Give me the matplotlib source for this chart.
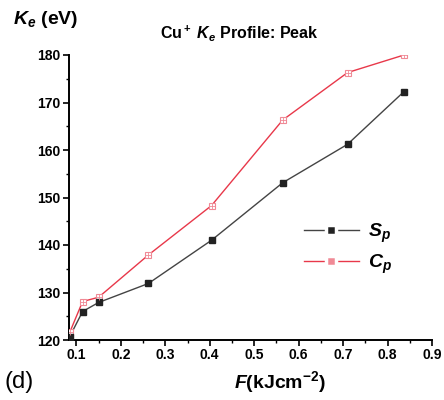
import matplotlib
matplotlib.use('Agg')
import matplotlib.pyplot as plt
from matplotlib.ticker import MultipleLocator
from matplotlib.lines import Line2D

plt.rcParams['font.family'] = ['Liberation Sans', 'DejaVu Sans']
plt.rcParams['mathtext.fontset'] = 'custom'
plt.rcParams['mathtext.rm'] = 'Liberation Sans:bold'
plt.rcParams['mathtext.it'] = 'Liberation Sans:bold:italic'
plt.rcParams['mathtext.bf'] = 'Liberation Sans:bold'

# fluence (kJ/cm^2)
fluence = [0.085, 0.114, 0.150, 0.262, 0.404, 0.564, 0.710, 0.837]
# Ke values (eV)
s_p = [120.7, 126.0, 127.9, 131.9, 141.0, 153.1, 161.2, 172.3]
c_p = [121.6, 128.1, 129.0, 137.9, 148.3, 166.3, 176.3, 180.0]

x_ticks = [0.1, 0.2, 0.3, 0.4, 0.5, 0.6, 0.7, 0.8, 0.9]
y_ticks = [120, 130, 140, 150, 160, 170, 180]

sp_color = '#222222'
sp_line = '#444444'
cp_line = '#e8384a'
cp_marker = '#f08a96'

fig = plt.figure(figsize=(4.44, 4.0), dpi=100)
ax = fig.add_axes([0.155, 0.15, 0.818, 0.7125])

ax.plot(fluence, c_p, color=cp_line, linewidth=1.0, zorder=2)
ax.plot(fluence, c_p, linestyle='none', marker='s', markersize=5,
        markerfacecolor='white', markeredgecolor=cp_marker, markeredgewidth=0.8, zorder=3)
ax.plot(fluence, c_p, linestyle='none', marker='+', markersize=5,
        markeredgecolor=cp_marker, markeredgewidth=0.6, zorder=4)

ax.plot(fluence, s_p, color=sp_line, linewidth=1.0, zorder=2)
ax.plot(fluence, s_p, linestyle='none', marker='s', markersize=5,
        color=sp_color, zorder=3)

ax.set_xlim(0.083, 0.9)
ax.set_ylim(120, 180)
ax.set_xticks(x_ticks)
ax.set_xticklabels([f'{v:.1f}' for v in x_ticks])
ax.set_yticks(y_ticks)
ax.xaxis.set_minor_locator(MultipleLocator(0.05))
ax.yaxis.set_minor_locator(MultipleLocator(5))
ax.tick_params(which='major', direction='out', length=4, width=1.2, labelsize=10, pad=2)
ax.tick_params(which='minor', direction='out', length=2.5, width=1.0)
for lab in ax.get_xticklabels() + ax.get_yticklabels():
    lab.set_fontweight('bold')

for s in ['top', 'right']:
    ax.spines[s].set_visible(False)
for s in ['left', 'bottom']:
    ax.spines[s].set_linewidth(1.4)

fig.text(0.03, 0.94, r'$K_e$ (eV)', fontsize=14, fontweight='bold')
fig.text(0.54, 0.905, r'Cu$^+$ $K_e$ Profile: Peak', fontsize=11.5, fontweight='bold',
         ha='center')
fig.text(0.63, 0.03, r'$F$(kJcm$^{-2}$)', fontsize=14, fontweight='bold', ha='center')
fig.text(0.01, 0.03, '(d)', fontsize=17)

# legend handles: line with a small gap around the marker
h_sp = Line2D([], [], color=sp_line, linewidth=1.0, marker='s', markersize=7.5,
              markerfacecolor=sp_color, markeredgecolor='white', markeredgewidth=2.5)
h_cp = Line2D([], [], color=cp_line, linewidth=1.0, marker='s', markersize=7.5,
              markerfacecolor=cp_marker, markeredgecolor='white', markeredgewidth=2.5)
leg = ax.legend([h_sp, h_cp], [r'$S_p$', r'$C_p$'], loc='center left',
                bbox_to_anchor=(0.6, 0.32), frameon=False, fontsize=14,
                handlelength=2.8, handletextpad=0.5, labelspacing=0.4)

fig.savefig('out.png', dpi=100)
